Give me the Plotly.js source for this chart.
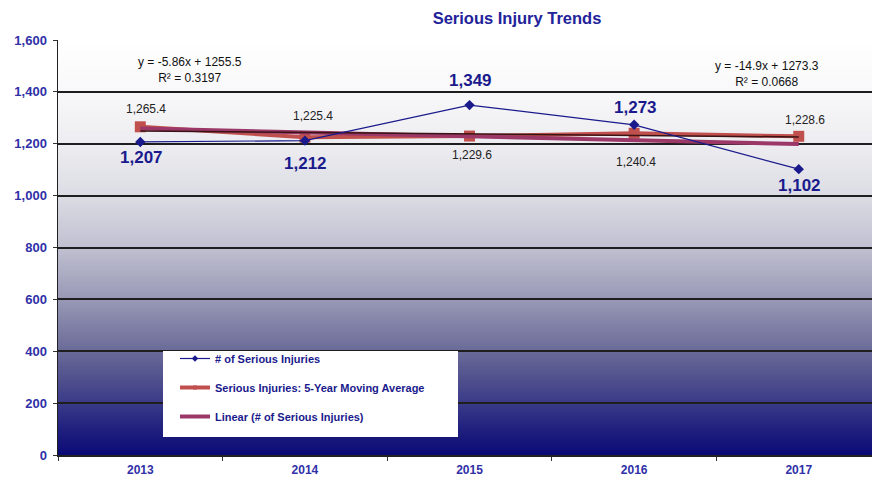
<!DOCTYPE html>
<html>
<head>
<meta charset="utf-8">
<script src="https://cdn.plot.ly/plotly-3.0.1.min.js"></script>
<style>html,body{margin:0;padding:0;background:#fff;}#chart{width:872px;height:480px;}</style>
</head>
<body>
<div id="chart"></div>
<script>
// ---- data ----
const years = ["2013", "2014", "2015", "2016", "2017"];
const injuries = [1207, 1212, 1349, 1273, 1102];
const movingAvg = [1265.4, 1225.4, 1229.6, 1240.4, 1228.6];
const linearInjuries = [1258.4, 1243.5, 1228.6, 1213.7, 1198.8];   // y = -14.9x + 1273.3
const linearMovingAvg = [1249.6, 1243.8, 1237.9, 1232.1, 1226.2];  // y = -5.86x + 1255.5
const injuryLabels = ["1,207", "1,212", "1,349", "1,273", "1,102"];
const avgLabels = ["1,265.4", "1,225.4", "1,229.6", "1,240.4", "1,228.6"];
const yTickVals = [0, 200, 400, 600, 800, 1000, 1200, 1400, 1600];
const yTickText = ["0", "200", "400", "600", "800", "1,000", "1,200", "1,400", "1,600"];

// ---- styling ----
const injShift = [-16, -23, 25, 17, -16];
const avgShift = [18, 21, -19, -29, 16];
const avgXShift = [6, 8, 2, 2, 6];
const FONT = "Arial, Liberation Sans, sans-serif";

const traces = [
  {x: years, y: movingAvg, type: "scatter", mode: "lines+markers", name: "Serious Injuries: 5-Year Moving Average",
   line: {color: "#C0504D", width: 4}, marker: {symbol: "square", size: 11, color: "#C0504D"}, showlegend: false},
  {x: years, y: linearInjuries, type: "scatter", mode: "lines", name: "Linear (# of Serious Injuries)",
   line: {color: "#9B3868", width: 4}, showlegend: false},
  {x: years, y: linearMovingAvg, type: "scatter", mode: "lines", name: "Linear (Moving Average)",
   line: {color: "#3A1414", width: 1.5}, showlegend: false},
  {x: years, y: injuries, type: "scatter", mode: "lines+markers", name: "# of Serious Injuries",
   line: {color: "#1A1A8C", width: 1.2}, marker: {symbol: "diamond", size: 8, color: "#1A1A8C"}, showlegend: false},
  // legend entries
  {x: [null], y: [null], type: "scatter", mode: "lines+markers", name: "# of Serious Injuries", legendgroup: "a",
   line: {color: "#1A1A8C", width: 1.2}, marker: {symbol: "diamond", size: 5, color: "#1A1A8C"}},
  {x: [null], y: [null], type: "scatter", mode: "lines+markers", name: "Serious Injuries: 5-Year Moving Average", legendgroup: "b",
   line: {color: "#C0504D", width: 4}, marker: {symbol: "square", size: 4, color: "#C0504D"}},
  {x: [null], y: [null], type: "scatter", mode: "lines", name: "Linear (# of Serious Injuries)", legendgroup: "c",
   line: {color: "#9B3868", width: 4}}
];

// gradient background
const stops = [
  [0, [10, 10, 118]], [100, [32, 32, 126]], [200, [58, 58, 136]], [300, [82, 82, 142]],
  [400, [106, 106, 152]], [600, [152, 152, 182]], [800, [192, 192, 208]], [1000, [220, 220, 228]],
  [1200, [237, 237, 241]], [1400, [248, 248, 250]], [1600, [255, 255, 255]]
];
function colAt(v) {
  for (let i = 0; i < stops.length - 1; i++) {
    const a = stops[i], b = stops[i + 1];
    if (v >= a[0] && v <= b[0]) {
      const t = (v - a[0]) / (b[0] - a[0]);
      const c = a[1].map((ca, k) => Math.round(ca + (b[1][k] - ca) * t));
      return "rgb(" + c.join(",") + ")";
    }
  }
  return "rgb(255,255,255)";
}
const shapes = [];
const bands = 160;
for (let i = 0; i < bands; i++) {
  const y0 = 1600 * i / bands, y1 = 1600 * (i + 1) / bands;
  shapes.push({type: "rect", xref: "paper", yref: "y", x0: 0, x1: 1, y0: y0, y1: Math.min(y1 + 10, 1600),
    fillcolor: colAt((y0 + y1) / 2), line: {width: 0}, layer: "below"});
}
// legend box
shapes.push({type: "rect", xref: "paper", yref: "paper", x0: (163 - 58) / 814, x1: (458 - 58) / 814,
  y0: (455 - 437) / 415, y1: (455 - 351) / 415, fillcolor: "#ffffff", line: {width: 0}, layer: "above"});

const annotations = [];
years.forEach((yr, i) => {
  annotations.push({x: i, y: injuries[i], xref: "x", yref: "y", text: injuryLabels[i], showarrow: false,
    xanchor: "center", yanchor: "middle",
    yshift: injShift[i], xshift: 1, font: {family: FONT, size: 17, color: "#1A1A8C", weight: "bold"}});
  annotations.push({x: i, y: movingAvg[i], xref: "x", yref: "y", text: avgLabels[i], showarrow: false,
    xanchor: "center", yanchor: "middle",
    yshift: avgShift[i], xshift: avgXShift[i], font: {family: FONT, size: 12, color: "#222222"}});
});
annotations.push({xref: "paper", yref: "paper", x: (190 - 58) / 814, y: (455 - 70) / 415,
  xanchor: "center", yanchor: "middle",
  text: "y = -5.86x + 1255.5<br>R² = 0.3197", showarrow: false, align: "center",
  font: {family: FONT, size: 12, color: "#111"}});
annotations.push({xref: "paper", yref: "paper", x: (767 - 58) / 814, y: (455 - 74) / 415,
  xanchor: "center", yanchor: "middle",
  text: "y = -14.9x + 1273.3<br>R² = 0.0668", showarrow: false, align: "center",
  font: {family: FONT, size: 12, color: "#111"}});

const layout = {
  width: 872, height: 480,
  margin: {l: 58, r: 0, t: 40, b: 25, pad: 0},
  paper_bgcolor: "#ffffff", plot_bgcolor: "#ffffff",
  title: {text: "Serious Injury Trends", x: 517 / 872, xanchor: "center", y: 0.962, yanchor: "middle",
    font: {family: FONT, size: 16.5, color: "#22229A", weight: "bold"}},
  xaxis: {type: "category", range: [-0.5, 4.445], tickson: "boundaries", ticks: "outside", ticklen: 4,
    tickcolor: "#333", showgrid: false, showline: true, linecolor: "#222", linewidth: 1.5, zeroline: false,
    ticklabelstandoff: 3,
    tickfont: {family: FONT, size: 12, color: "#3030A8", weight: "bold"}, fixedrange: true},
  yaxis: {range: [0, 1600], tickvals: yTickVals, ticktext: yTickText, ticks: "outside", ticklen: 4,
    tickcolor: "#333", showgrid: true, gridcolor: "#1e1e1e", gridwidth: 2, showline: true,
    linecolor: "#222", linewidth: 1.5, zeroline: false, ticklabelstandoff: 3,
    tickfont: {family: FONT, size: 13, color: "#3030A8", weight: "bold"}, fixedrange: true},
  showlegend: true,
  legend: {x: (175 - 58) / 814, y: (455 - 344) / 415, xanchor: "left", yanchor: "top",
    bgcolor: "rgba(0,0,0,0)", borderwidth: 0, traceorder: "grouped", tracegroupgap: 10, itemwidth: 30,
    font: {family: FONT, size: 11, color: "#1A1A8C", weight: "bold"}},
  shapes: shapes,
  annotations: annotations
};
Plotly.newPlot("chart", traces, layout, {displayModeBar: false, staticPlot: true});
</script>
</body>
</html>
